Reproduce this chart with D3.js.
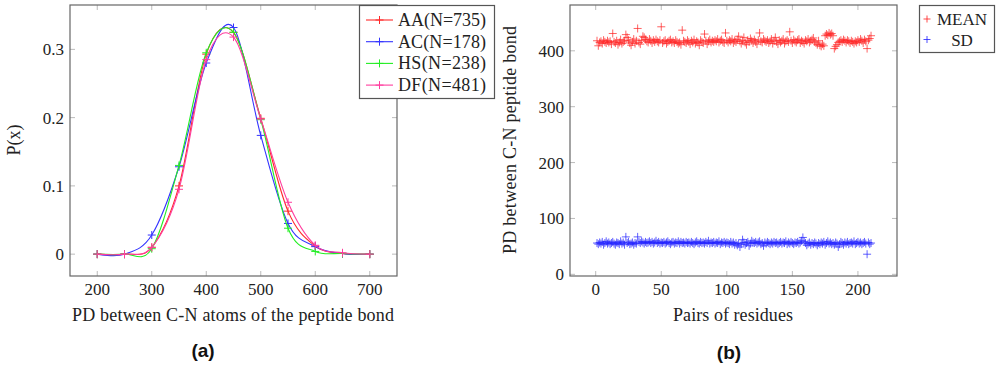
<!DOCTYPE html>
<html lang="en">
<head>
  <meta charset="UTF-8">
  <title>PD between C-N atoms</title>
  <script src="https://d3js.org/d3.v7.min.js"></script>
  <style>
    body { margin: 0; background: #fff; }
    svg { display: block; }
    .tick-label, .axis-title, .legend-text { font-family: "Liberation Serif", "DejaVu Serif", serif; fill: #222; }
    .panel-label { font-family: "Liberation Sans", Arial, sans-serif; font-weight: bold; fill: #111; }
  </style>
</head>
<body>
<svg width="1000" height="384"></svg>
<script>
  // Panel (a): probability distribution
  const pdX = [200, 250, 300, 350, 400, 450, 500, 550, 600, 650, 700];
  const seriesNames = ["AA(N=735)", "AC(N=178)", "HS(N=238)", "DF(N=481)"];
  const seriesColors = ["#ff2a2a", "#3333ff", "#22ee22", "#ff3d9e"];
  const aaValues = [0, 0, 0.010, 0.100, 0.293, 0.325, 0.199, 0.063, 0.012, 0.001, 0];
  const acValues = [0, 0, 0.028, 0.128, 0.280, 0.332, 0.174, 0.045, 0.011, 0.001, 0];
  const hsValues = [0, 0, 0.008, 0.130, 0.295, 0.325, 0.197, 0.038, 0.004, 0.001, 0];
  const dfValues = [0, 0, 0.010, 0.095, 0.285, 0.318, 0.198, 0.076, 0.013, 0.002, 0];
  const xTicksA = [200, 300, 400, 500, 600, 700];
  const yTicksA = [0, 0.1, 0.2, 0.3];

  // Panel (b): mean and SD per pair of residues (index 1..210)
  const meanValues = [
    418, 409, 415, 417, 413, 419, 416, 414, 418, 415,
    417, 412, 431, 416, 414, 418, 411, 415, 420, 413,
    416, 418, 429, 424, 419, 414, 410, 416, 421, 413,
    418, 440, 415, 412, 419, 426, 424, 420, 417, 415,
    421, 418, 414, 419, 416, 420, 417, 415, 419, 443,
    414, 417, 419, 413, 416, 418, 420, 415, 417, 414,
    419, 416, 413, 415, 411, 437, 418, 416, 414, 419,
    416, 412, 418, 415, 420, 413, 417, 415, 410, 419,
    416, 414, 430, 418, 412, 417, 420, 415, 418, 416,
    419, 417, 421, 415, 418, 420, 416, 414, 432, 418,
    415, 419, 417, 421, 414, 418, 416, 420, 426, 417,
    413, 418, 424, 415, 411, 419, 416, 422, 418, 414,
    420, 416, 412, 419, 432, 417, 415, 421, 418, 416,
    419, 414, 417, 421, 413, 418, 424, 416, 412, 419,
    415, 418, 421, 413, 417, 419, 416, 434, 418, 414,
    420, 417, 415, 419, 421, 414, 418, 416, 413, 419,
    417, 421, 415, 418, 420, 423, 416, 414, 411, 418,
    410, 408, 412, 409, 427, 430, 428, 432, 429, 431,
    427, 404, 408, 411, 415, 417, 419, 416, 420, 418,
    415, 419, 417, 414, 418, 416, 413, 417, 415, 419,
    416, 421, 418, 414, 420, 417, 404, 419, 422, 427
  ];
  const sdValues = [
    56, 54, 57, 55, 58, 53, 56, 59, 55, 57,
    54, 56, 58, 55, 53, 57, 56, 54, 59, 55,
    57, 53, 67, 56, 58, 54, 55, 57, 53, 56,
    55, 67, 58, 56, 59, 57, 55, 58, 56, 57,
    59, 56, 58, 55, 57, 60, 56, 58, 55, 57,
    56, 58, 55, 57, 59, 56, 54, 57, 58, 55,
    57, 56, 59, 55, 58, 56, 57, 55, 58, 56,
    57, 55, 58, 56, 54, 57, 59, 56, 55, 58,
    56, 57, 55, 58, 56, 60, 55, 57, 56, 58,
    55, 57, 56, 59, 54, 57, 56, 58, 55, 57,
    56, 54, 58, 55, 57, 53, 56, 52, 55, 49,
    54, 62, 57, 53, 56, 58, 51, 55, 60, 57,
    56, 58, 55, 57, 59, 54, 56, 51, 57, 55,
    58, 56, 54, 57, 55, 58, 56, 57, 54, 56,
    58, 55, 57, 56, 59, 54, 57, 55, 58, 56,
    54, 57, 56, 58, 55, 57, 60, 66, 59, 56,
    52, 55, 57, 53, 56, 54, 57, 55, 52, 56,
    54, 57, 55, 58, 53, 56, 59, 55, 57, 54,
    56, 53, 57, 55, 49, 54, 58, 56, 53, 57,
    55, 58, 54, 56, 57, 55, 59, 54, 56, 58,
    55, 57, 54, 56, 58, 55, 36, 57, 54, 56
  ];
  const xTicksB = [0, 50, 100, 150, 200];
  const yTicksB = [0, 100, 200, 300, 400];
  const legendB = ["MEAN", "SD"];
  const colorsB = ["#ff2020", "#2020ff"];

  const svg = d3.select("svg");

  // draw a "+" marker
  function plus(g, x, y, r, color, opacity) {
    g.append("path")
      .attr("d", `M${x - r},${y}H${x + r}M${x},${y - r}V${y + r}`)
      .attr("stroke", color)
      .attr("stroke-width", 1)
      .attr("stroke-opacity", opacity)
      .attr("fill", "none");
  }

  // frame with pgfplots style inner ticks
  function drawFrame(g, x, y, xTicks, yTicks, xFmt, yFmt) {
    const [x0, x1] = x.range();
    const [y0, y1] = y.range();
    const tickLen = 5;
    xTicks.forEach(t => {
      g.append("line").attr("x1", x(t)).attr("x2", x(t)).attr("y1", y0).attr("y2", y0 - tickLen)
        .attr("stroke", "#bbb");
      g.append("line").attr("x1", x(t)).attr("x2", x(t)).attr("y1", y1).attr("y2", y1 + tickLen)
        .attr("stroke", "#bbb");
      g.append("text").attr("class", "tick-label")
        .attr("x", x(t)).attr("y", y0 + 19)
        .attr("text-anchor", "middle").style("font-size", "17px")
        .text(xFmt(t));
    });
    yTicks.forEach(t => {
      g.append("line").attr("x1", x0).attr("x2", x0 + tickLen).attr("y1", y(t)).attr("y2", y(t))
        .attr("stroke", "#bbb");
      g.append("line").attr("x1", x1).attr("x2", x1 - tickLen).attr("y1", y(t)).attr("y2", y(t))
        .attr("stroke", "#bbb");
      g.append("text").attr("class", "tick-label")
        .attr("x", x0 - 6).attr("y", y(t) + 6)
        .attr("text-anchor", "end").style("font-size", "17px")
        .text(yFmt(t));
    });
    g.append("rect")
      .attr("x", x0).attr("y", y1)
      .attr("width", x1 - x0).attr("height", y0 - y1)
      .attr("fill", "none").attr("stroke", "#666").attr("stroke-width", 1.2);
  }

  // ---------- Panel (a) ----------
  const xA = d3.scaleLinear().domain([150, 750]).range([70, 397]);
  const yA = d3.scaleLinear().domain([-0.032, 0.365]).range([276, 5]);
  const gA = svg.append("g");

  const clipA = svg.append("clipPath").attr("id", "clipA");
  clipA.append("rect").attr("x", 70).attr("y", 5).attr("width", 327).attr("height", 271);

  const line = d3.line()
    .x((d, i) => xA(pdX[i]))
    .y(d => yA(d))
    .curve(d3.curveCardinal.tension(0));

  const allA = [aaValues, acValues, hsValues, dfValues];
  const plotA = gA.append("g").attr("clip-path", "url(#clipA)");
  allA.forEach((vals, k) => {
    plotA.append("path")
      .datum(vals)
      .attr("d", line)
      .attr("fill", "none")
      .attr("stroke", seriesColors[k])
      .attr("stroke-width", 1.1);
    vals.forEach((v, i) => plus(plotA, xA(pdX[i]), yA(v), 4, seriesColors[k], 1));
  });

  drawFrame(gA, xA, yA, xTicksA, yTicksA, d3.format("d"), d => d === 0 ? "0" : d3.format(".1f")(d));

  gA.append("text").attr("class", "axis-title")
    .attr("x", 233).attr("y", 321).attr("text-anchor", "middle")
    .style("font-size", "18px")
    .attr("textLength", 322).attr("lengthAdjust", "spacing")
    .text("PD between C-N atoms of the peptide bond");
  gA.append("text").attr("class", "axis-title")
    .attr("transform", "translate(20,140) rotate(-90)")
    .attr("text-anchor", "middle").style("font-size", "18px")
    .text("P(x)");

  // legend (a)
  const legA = gA.append("g");
  legA.append("rect").attr("x", 359.5).attr("y", 5.5).attr("width", 135).attr("height", 93)
    .attr("fill", "#fff").attr("stroke", "#555").attr("stroke-width", 1.2);
  seriesNames.forEach((name, k) => {
    const yy = 20 + k * 21.7;
    legA.append("line").attr("x1", 366).attr("x2", 393).attr("y1", yy).attr("y2", yy)
      .attr("stroke", seriesColors[k]).attr("stroke-width", 1.1);
    plus(legA, 379.5, yy, 4, seriesColors[k], 1);
    legA.append("text").attr("class", "legend-text")
      .attr("x", 398).attr("y", yy + 6).style("font-size", "18px")
      .attr("textLength", 88).attr("lengthAdjust", "spacing")
      .text(name);
  });

  svg.append("text").attr("class", "panel-label")
    .attr("x", 203).attr("y", 357).attr("text-anchor", "middle")
    .style("font-size", "19px").text("(a)");

  // ---------- Panel (b) ----------
  const xB = d3.scaleLinear().domain([-19.6, 229.8]).range([570, 897]);
  const yB = d3.scaleLinear().domain([-3, 482]).range([276, 5]);
  const gB = svg.append("g");

  [meanValues, sdValues].forEach((vals, k) => {
    vals.forEach((v, i) => plus(gB, xB(i + 1), yB(v), 4, colorsB[k], 0.7));
  });

  drawFrame(gB, xB, yB, xTicksB, yTicksB, d3.format("d"), d3.format("d"));

  gB.append("text").attr("class", "axis-title")
    .attr("x", 733).attr("y", 321).attr("text-anchor", "middle")
    .style("font-size", "18px")
    .attr("textLength", 120).attr("lengthAdjust", "spacing")
    .text("Pairs of residues");
  gB.append("text").attr("class", "axis-title")
    .attr("transform", "translate(516,140) rotate(-90)")
    .attr("text-anchor", "middle").style("font-size", "18px")
    .attr("textLength", 228).attr("lengthAdjust", "spacing")
    .text("PD between C-N peptide bond");

  // legend (b)
  const legB = gB.append("g");
  legB.append("rect").attr("x", 919.5).attr("y", 5.5).attr("width", 75).attr("height", 47)
    .attr("fill", "#fff").attr("stroke", "#555").attr("stroke-width", 1.2);
  legendB.forEach((name, k) => {
    const yy = 19 + k * 20.5;
    plus(legB, 927, yy, 3.5, colorsB[k], 0.8);
    legB.append("text").attr("class", "legend-text")
      .attr("x", 962).attr("y", yy + 6).attr("text-anchor", "middle")
      .style("font-size", "17px")
      .text(name);
  });

  svg.append("text").attr("class", "panel-label")
    .attr("x", 729).attr("y", 359).attr("text-anchor", "middle")
    .style("font-size", "19px").text("(b)");
</script>
</body>
</html>
